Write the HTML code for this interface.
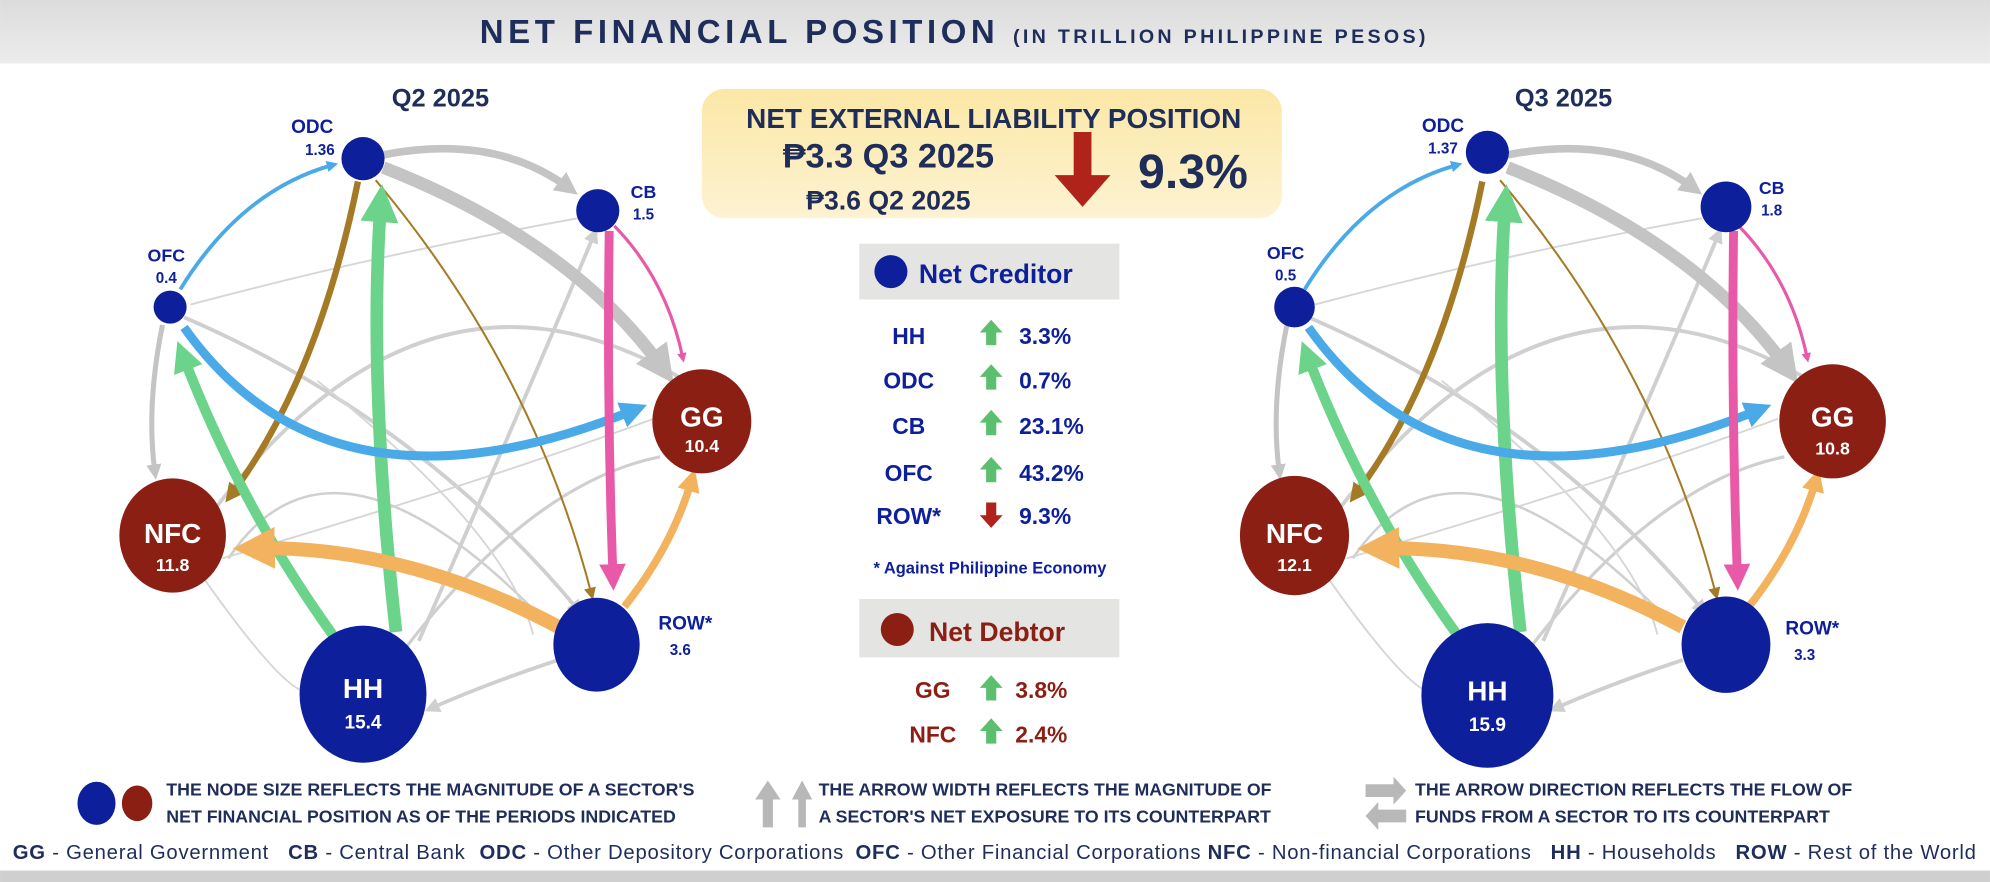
<!DOCTYPE html>
<html><head><meta charset="utf-8"><style>
html,body{margin:0;padding:0;background:#fff;}
svg{display:block;font-family:"Liberation Sans",sans-serif;font-weight:bold;}
</style></head><body>
<svg width="1990" height="882" viewBox="0 0 1568 695" xmlns="http://www.w3.org/2000/svg">
<defs>
<linearGradient id="hdr" x1="0" y1="0" x2="0" y2="1"><stop offset="0" stop-color="#dcdcdc"/><stop offset="1" stop-color="#ececec"/></linearGradient>
<linearGradient id="yb" x1="0" y1="0" x2="0" y2="1"><stop offset="0" stop-color="#fbe7a6"/><stop offset="1" stop-color="#fdf3d2"/></linearGradient>
<marker id="mg" markerWidth="3" markerHeight="3" refX="1.5" refY="1.5" orient="auto"><path d="M0,0L3,1.5L0,3z" fill="#c4c4c4"/></marker>
<marker id="mgl" markerWidth="4" markerHeight="4" refX="2" refY="2" orient="auto"><path d="M0,0L4,2L0,4z" fill="#cfcfcf"/></marker>
<marker id="mgr" markerWidth="3" markerHeight="3" refX="1.5" refY="1.5" orient="auto"><path d="M0,0L3,1.5L0,3z" fill="#6cd38a"/></marker>
<marker id="mb" markerWidth="3" markerHeight="3" refX="1.5" refY="1.5" orient="auto"><path d="M0,0L3,1.5L0,3z" fill="#4aaae8"/></marker>
<marker id="mbr" markerWidth="3" markerHeight="3" refX="1.5" refY="1.5" orient="auto"><path d="M0,0L3,1.5L0,3z" fill="#a57a25"/></marker>
<marker id="mbrt" markerWidth="6" markerHeight="6" refX="3" refY="3" orient="auto"><path d="M0,0L6,3L0,6z" fill="#a57a25"/></marker>
<marker id="mp" markerWidth="3" markerHeight="3" refX="1.5" refY="1.5" orient="auto"><path d="M0,0L3,1.5L0,3z" fill="#e85aa8"/></marker>
<marker id="mo" markerWidth="3" markerHeight="3" refX="1.5" refY="1.5" orient="auto"><path d="M0,0L3,1.5L0,3z" fill="#f2b25e"/></marker>
<g id="edges" fill="none" stroke-linecap="butt">
  <path d="M150,240 Q300,200 455,172" stroke="#d6d6d6" stroke-width="1.5"/>
  <path d="M145,250 Q330,330 455,480" stroke="#cfcfcf" stroke-width="3" marker-end="url(#mgl)"/>
  <path d="M170,400 Q340,180 540,300" stroke="#d0d0d0" stroke-width="3"/>
  <path d="M175,440 Q380,380 515,330" stroke="#d6d6d6" stroke-width="1.5"/>
  <path d="M160,455 Q220,540 240,545" stroke="#d6d6d6" stroke-width="1.5"/>
  <path d="M330,505 Q420,300 468,185" stroke="#cfcfcf" stroke-width="3" marker-end="url(#mgl)"/>
  <path d="M320,510 Q420,380 520,360" stroke="#cfcfcf" stroke-width="2.5"/>
  <path d="M440,520 Q380,540 340,558" stroke="#cfcfcf" stroke-width="3" marker-end="url(#mgl)"/>
  <path d="M180,440 Q260,320 420,480" stroke="#d0d0d0" stroke-width="2"/>
  <path d="M250,300 Q400,420 420,500" stroke="#d6d6d6" stroke-width="1.5"/>
  <path d="M128,256 Q115,320 122,372" stroke="#c4c4c4" stroke-width="4" marker-end="url(#mg)"/>
  <path d="M302,122 Q390,105 448,148" stroke="#c4c4c4" stroke-width="6" marker-end="url(#mg)"/>
  <path d="M302,132 Q450,190 522,290" stroke="#c4c4c4" stroke-width="10" marker-end="url(#mg)"/>
  <path d="M296,142 Q420,290 466,468" stroke="#a57a25" stroke-width="1.6" marker-end="url(#mbrt)"/>
  <path d="M282,143 Q250,300 182,390" stroke="#a57a25" stroke-width="5" marker-end="url(#mbr)"/>
  <path d="M312,498 Q290,300 300,160" stroke="#6cd38a" stroke-width="10" marker-end="url(#mgr)"/>
  <path d="M262,500 Q190,400 144,280" stroke="#6cd38a" stroke-width="8" marker-end="url(#mgr)"/>
  <path d="M142,228 Q190,150 262,130" stroke="#4aaae8" stroke-width="3" marker-end="url(#mb)"/>
  <path d="M145,258 Q260,420 500,323" stroke="#4aaae8" stroke-width="7" marker-end="url(#mb)"/>
  <path d="M480,182 Q478,320 483,455" stroke="#e85aa8" stroke-width="7" marker-end="url(#mp)"/>
  <path d="M484,178 Q525,220 538,282" stroke="#e85aa8" stroke-width="2.5" marker-end="url(#mp)"/>
  <path d="M440,494 Q320,430 200,432" stroke="#f2b25e" stroke-width="11" marker-end="url(#mo)"/>
  <path d="M492,478 Q530,430 545,378" stroke="#f2b25e" stroke-width="6" marker-end="url(#mo)"/>
</g>
</defs>
<rect width="1568" height="695" fill="#fff"/>
<rect x="0" y="0" width="1568" height="50" fill="url(#hdr)"/>
<rect x="0" y="686" width="1568" height="9" fill="#cfcfcf"/>
<text x="378" y="34" font-size="26" fill="#1f2d5a" letter-spacing="3.6">NET FINANCIAL POSITION <tspan font-size="15.5" letter-spacing="2.6">(IN TRILLION PHILIPPINE PESOS)</tspan></text>

<use href="#edges"/>
<use href="#edges" transform="translate(886,0)"/>

<text x="347" y="84" text-anchor="middle" font-size="20" fill="#1f2d5a">Q2 2025</text>
<circle cx="286" cy="125" r="17" fill="#0d1f9a"/>
<text x="246" y="105" text-anchor="middle" font-size="15" fill="#0d1f9a">ODC</text>
<text x="252" y="122" text-anchor="middle" font-size="12" fill="#0d1f9a">1.36</text>
<circle cx="471" cy="166" r="17" fill="#0d1f9a"/>
<text x="507" y="156" text-anchor="middle" font-size="14" fill="#0d1f9a">CB</text>
<text x="507" y="173" text-anchor="middle" font-size="12" fill="#0d1f9a">1.5</text>
<circle cx="134" cy="242" r="13" fill="#0d1f9a"/>
<text x="131" y="206" text-anchor="middle" font-size="14" fill="#0d1f9a">OFC</text>
<text x="131" y="223" text-anchor="middle" font-size="12" fill="#0d1f9a">0.4</text>
<ellipse cx="553" cy="332" rx="39" ry="41" fill="#8b1f14"/>
<text x="553" y="336" text-anchor="middle" font-size="22" fill="#fff">GG</text>
<text x="553" y="356" text-anchor="middle" font-size="14" fill="#fff">10.4</text>
<ellipse cx="136" cy="422" rx="42" ry="45" fill="#8b1f14"/>
<text x="136" y="428" text-anchor="middle" font-size="22" fill="#fff">NFC</text>
<text x="136" y="450" text-anchor="middle" font-size="14" fill="#fff">11.8</text>
<ellipse cx="286" cy="547" rx="50" ry="54" fill="#0d1f9a"/>
<text x="286" y="550" text-anchor="middle" font-size="22" fill="#fff">HH</text>
<text x="286" y="574" text-anchor="middle" font-size="15" fill="#fff">15.4</text>
<ellipse cx="470" cy="508" rx="34" ry="37" fill="#0d1f9a"/>
<text x="540" y="496" text-anchor="middle" font-size="15" fill="#0d1f9a">ROW*</text>
<text x="536" y="516" text-anchor="middle" font-size="12" fill="#0d1f9a">3.6</text>

<text x="1232" y="84" text-anchor="middle" font-size="20" fill="#1f2d5a">Q3 2025</text>
<circle cx="1172" cy="120" r="17" fill="#0d1f9a"/>
<text x="1137" y="104" text-anchor="middle" font-size="15" fill="#0d1f9a">ODC</text>
<text x="1137" y="121" text-anchor="middle" font-size="12" fill="#0d1f9a">1.37</text>
<circle cx="1360" cy="163" r="20" fill="#0d1f9a"/>
<text x="1396" y="153" text-anchor="middle" font-size="14" fill="#0d1f9a">CB</text>
<text x="1396" y="170" text-anchor="middle" font-size="12" fill="#0d1f9a">1.8</text>
<circle cx="1020" cy="242" r="16" fill="#0d1f9a"/>
<text x="1013" y="204" text-anchor="middle" font-size="14" fill="#0d1f9a">OFC</text>
<text x="1013" y="221" text-anchor="middle" font-size="12" fill="#0d1f9a">0.5</text>
<ellipse cx="1444" cy="332" rx="42" ry="45" fill="#8b1f14"/>
<text x="1444" y="336" text-anchor="middle" font-size="22" fill="#fff">GG</text>
<text x="1444" y="358" text-anchor="middle" font-size="14" fill="#fff">10.8</text>
<ellipse cx="1020" cy="422" rx="43" ry="47" fill="#8b1f14"/>
<text x="1020" y="428" text-anchor="middle" font-size="22" fill="#fff">NFC</text>
<text x="1020" y="450" text-anchor="middle" font-size="14" fill="#fff">12.1</text>
<ellipse cx="1172" cy="548" rx="52" ry="57" fill="#0d1f9a"/>
<text x="1172" y="552" text-anchor="middle" font-size="22" fill="#fff">HH</text>
<text x="1172" y="576" text-anchor="middle" font-size="15" fill="#fff">15.9</text>
<ellipse cx="1360" cy="508" rx="35" ry="38" fill="#0d1f9a"/>
<text x="1428" y="500" text-anchor="middle" font-size="15" fill="#0d1f9a">ROW*</text>
<text x="1422" y="520" text-anchor="middle" font-size="12" fill="#0d1f9a">3.3</text>

<rect x="553" y="70" width="457" height="102" rx="18" fill="url(#yb)"/>
<text x="783" y="101" text-anchor="middle" font-size="22" fill="#1f2d5a">NET EXTERNAL LIABILITY POSITION</text>
<text x="700" y="132" text-anchor="middle" font-size="27" fill="#1f2d5a">₱3.3 Q3 2025</text>
<text x="700" y="165" text-anchor="middle" font-size="21" fill="#1f2d5a">₱3.6 Q2 2025</text>
<path d="M846,104 H860 V138 H875 L853,163 L831,138 H846 Z" fill="#b0231b"/>
<text x="940" y="148" text-anchor="middle" font-size="38" fill="#1f2d5a">9.3%</text>

<rect x="677" y="192" width="205" height="44" fill="#e4e4e2"/>
<circle cx="702" cy="214" r="13" fill="#0d1f9a"/>
<text x="724" y="223" font-size="21" fill="#0d1f9a">Net Creditor</text>
<g font-size="18" fill="#0d1f9a">
<text x="716" y="271" text-anchor="middle">HH</text><text x="803" y="271">3.3%</text>
<text x="716" y="306" text-anchor="middle">ODC</text><text x="803" y="306">0.7%</text>
<text x="716" y="342" text-anchor="middle">CB</text><text x="803" y="342">23.1%</text>
<text x="716" y="379" text-anchor="middle">OFC</text><text x="803" y="379">43.2%</text>
<text x="716" y="413" text-anchor="middle">ROW*</text><text x="803" y="413">9.3%</text>
</g>
<g fill="#5cbf6e">
<path d="M781,252 L790,262 H785 V272 H777 V262 H772 Z"/>
<path d="M781,287 L790,297 H785 V307 H777 V297 H772 Z"/>
<path d="M781,323 L790,333 H785 V343 H777 V333 H772 Z"/>
<path d="M781,360 L790,370 H785 V380 H777 V370 H772 Z"/>
<path d="M781,532 L790,542 H785 V552 H777 V542 H772 Z"/>
<path d="M781,566 L790,576 H785 V586 H777 V576 H772 Z"/>
</g>
<path d="M777,396 H785 V406 H790 L781,416 L772,406 H777 Z" fill="#b0231b"/>
<text x="780" y="452" text-anchor="middle" font-size="13" fill="#0d1f9a">* Against Philippine Economy</text>
<rect x="677" y="472" width="205" height="46" fill="#e4e4e2"/>
<circle cx="707" cy="496" r="13" fill="#8b1f14"/>
<text x="732" y="505" font-size="21" fill="#8b1f14">Net Debtor</text>
<text x="735" y="550" text-anchor="middle" font-size="18" fill="#8b1f14">GG</text><text x="800" y="550" font-size="18" fill="#8b1f14">3.8%</text>
<text x="735" y="585" text-anchor="middle" font-size="18" fill="#8b1f14">NFC</text><text x="800" y="585" font-size="18" fill="#8b1f14">2.4%</text>

<ellipse cx="76" cy="633" rx="15" ry="17" fill="#0d1f9a"/>
<ellipse cx="108" cy="633" rx="12" ry="14" fill="#8b1f14"/>
<g font-size="14" fill="#1f2d5a">
<text x="131" y="627">THE NODE SIZE REFLECTS THE MAGNITUDE OF A SECTOR'S</text>
<text x="131" y="648">NET FINANCIAL POSITION AS OF THE PERIODS INDICATED</text>
<text x="645" y="627">THE ARROW WIDTH REFLECTS THE MAGNITUDE OF</text>
<text x="645" y="648">A SECTOR'S NET EXPOSURE TO ITS COUNTERPART</text>
<text x="1115" y="627">THE ARROW DIRECTION REFLECTS THE FLOW OF</text>
<text x="1115" y="648">FUNDS FROM A SECTOR TO ITS COUNTERPART</text>
</g>
<g fill="#b8b8b8">
<path d="M605,615 L615,630 H609 V652 H601 V630 H595 Z"/>
<path d="M632,615 L640,630 H635 V652 H629 V630 H624 Z"/>
<path d="M1076,618 H1098 V612 L1108,623 L1098,634 V628 H1076 Z"/>
<path d="M1108,638 H1086 V632 L1076,643 L1086,654 V648 H1108 Z"/>
</g>
<text x="10" y="677" font-size="16" fill="#1f2d5a" font-weight="normal" textLength="1547" lengthAdjust="spacing"><tspan font-weight="bold">GG</tspan> - General Government <tspan dx="10" font-weight="bold">CB</tspan> - Central Bank <tspan dx="6" font-weight="bold">ODC</tspan> - Other Depository Corporations <tspan dx="4" font-weight="bold">OFC</tspan> - Other Financial Corporations <tspan font-weight="bold">NFC</tspan> - Non-financial Corporations <tspan dx="10" font-weight="bold">HH</tspan> - Households <tspan dx="10" font-weight="bold">ROW</tspan> - Rest of the World</text>
</svg>
</body></html>
